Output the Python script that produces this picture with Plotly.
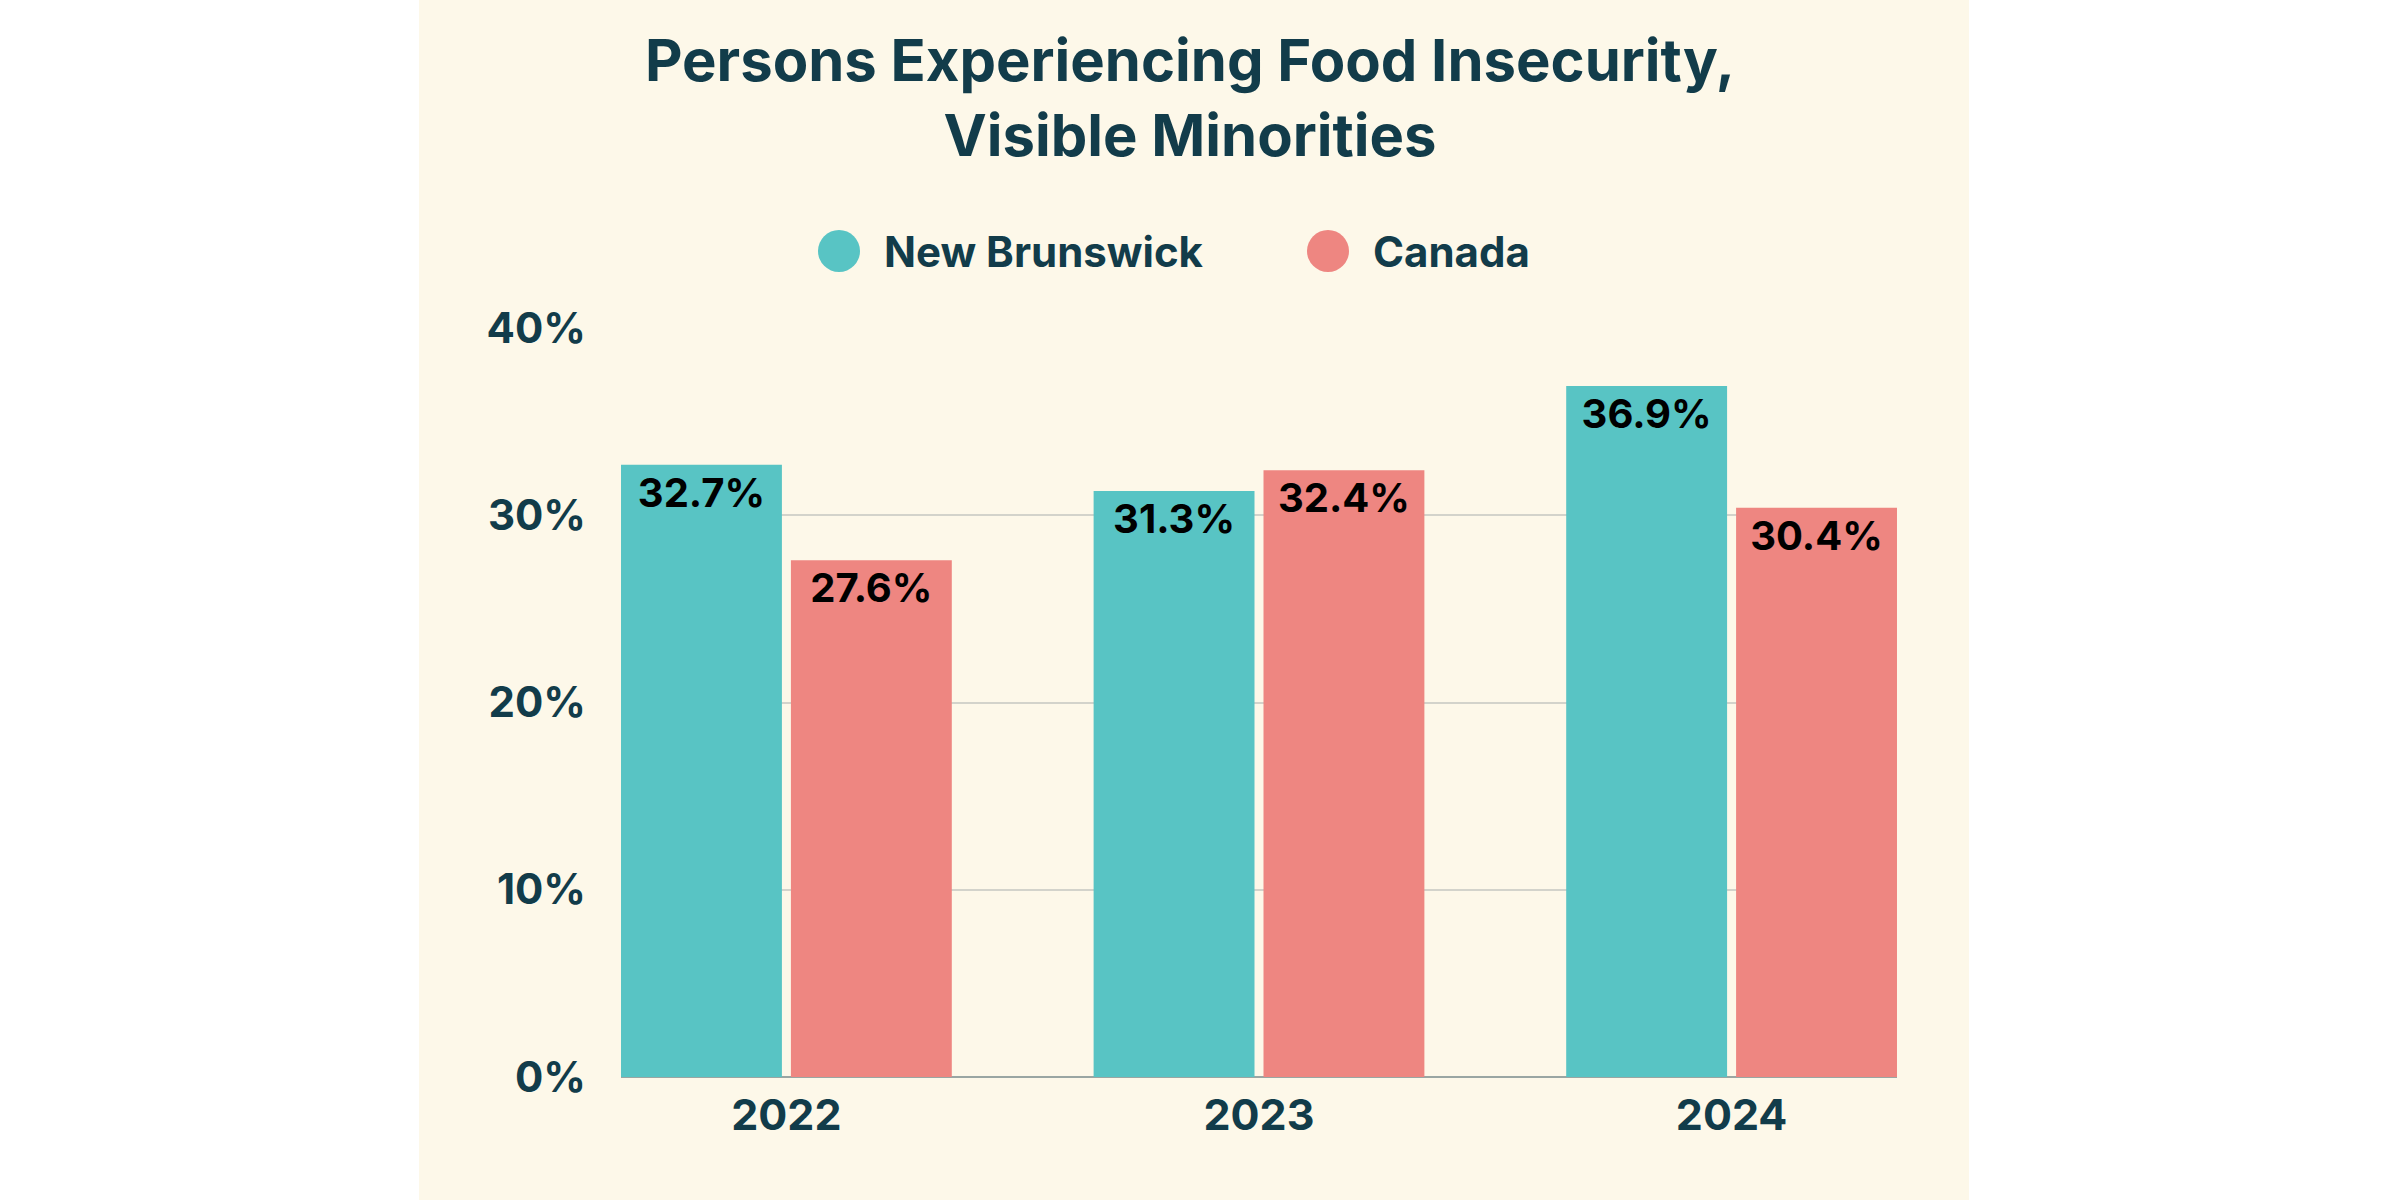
import plotly.graph_objects as go

years = ["2022", "2023", "2024"]
new_brunswick = [32.7, 31.3, 36.9]
canada = [27.6, 32.4, 30.4]
series_names = ["New Brunswick", "Canada"]
y_ticks = [0, 10, 20, 30, 40]
y_tick_labels = ["0%", "10%", "20%", "30%", "40%"]

TEAL = "#58C4C4"
SALMON = "#EE8681"
DARK = "#123C4A"
CREAM = "#FDF8E9"
FONT = "Inter, Open Sans, sans-serif"

W, H = 2400, 1200
L, R, T, B = 621, 2400 - 1897, 328, 1200 - 1077
pw, ph = W - L - R, H - T - B


def px_x(px):
    return (px - L) / pw


def px_y(py):
    return (H - B - py) / ph


fig = go.Figure()
for name, vals, col in [(series_names[0], new_brunswick, TEAL), (series_names[1], canada, SALMON)]:
    fig.add_trace(go.Bar(
        x=years, y=vals, name=name,
        marker=dict(color=col, line=dict(width=0)),
        text=[f"{v:.1f}%" for v in vals],
        textposition="inside", insidetextanchor="end",
        textfont=dict(family=FONT, size=40, color="#000000", weight=700),
        constraintext="none",
        showlegend=False,
        hoverinfo="skip",
    ))

shapes = [
    dict(type="rect", xref="paper", yref="paper", layer="below",
         x0=px_x(419), x1=px_x(1969), y0=px_y(1200), y1=px_y(0),
         fillcolor=CREAM, line=dict(width=0)),
]
annotations = []
legend_items = [(839, 882, series_names[0], TEAL), (1328, 1371, series_names[1], SALMON)]
for cx, tx, name, col in legend_items:
    shapes.append(dict(type="circle", xref="paper", yref="paper",
                       xsizemode="pixel", ysizemode="pixel",
                       xanchor=px_x(cx), yanchor=px_y(251),
                       x0=-21, x1=21, y0=-21, y1=21,
                       fillcolor=col, line=dict(width=0)))
    annotations.append(dict(xref="paper", yref="paper", x=px_x(tx), y=px_y(251),
                            xanchor="left", yanchor="middle", showarrow=False,
                            text=name, font=dict(family=FONT, size=42, color=DARK, weight=700)))

fig.update_layout(
    width=W, height=H,
    margin=dict(l=L, r=R, t=T, b=B, pad=0),
    paper_bgcolor="#FFFFFF",
    plot_bgcolor="rgba(0,0,0,0)",
    barmode="group",
    bargap=0.281,
    bargroupgap=0.053,
    showlegend=False,
    title=dict(
        text="Persons Experiencing Food Insecurity,<br>Visible Minorities",
        x=1190 / W, xref="container", xanchor="center",
        y=1 - 81 / H, yref="container", yanchor="middle",
        font=dict(family=FONT, size=58, color=DARK, weight=700),
    ),
    xaxis=dict(
        type="category", range=[-0.350, 2.350],
        showgrid=False, showline=False, zeroline=False,
        ticks="", ticklabelstandoff=9,
        tickfont=dict(family=FONT, size=43, color=DARK, weight=700),
    ),
    yaxis=dict(
        range=[0, 40], tickvals=y_ticks, ticktext=y_tick_labels,
        showgrid=True, gridcolor="#D3D3CB", gridwidth=1.5,
        zeroline=True, zerolinecolor="#9AA6A3", zerolinewidth=1.5,
        showline=False, ticks="", ticklabelstandoff=34,
        tickfont=dict(family=FONT, size=42, color=DARK, weight=700),
    ),
    shapes=shapes,
    annotations=annotations,
)

fig.write_html(
    "out.html",
    config={"displayModeBar": False},
    post_script="document.body.style.margin='0';document.body.style.overflow='hidden';",
)
